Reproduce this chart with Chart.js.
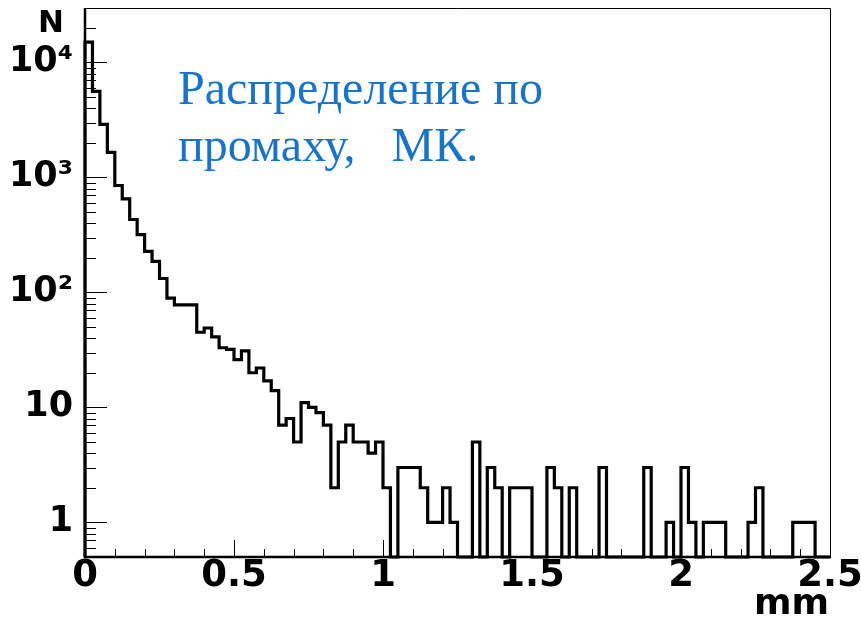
<!DOCTYPE html>
<html>
<head>
<meta charset="utf-8">
<script src="https://cdn.jsdelivr.net/npm/chart.js@4.4.1/dist/chart.umd.min.js"></script>
<style>
  html, body { margin: 0; padding: 0; background: #fff; }
  #wrap { width: 861px; height: 618px; }
</style>
</head>
<body>
<div id="wrap"><canvas id="hist" width="861" height="618"></canvas></div>
<script>
// miss-distance histogram, 100 bins of 0.025 mm
const xMin = 0;
const xMax = 2.5;
const binWidth = 0.025;
const counts = [
  15000, 5600, 2890, 1650, 850, 650, 430, 318, 227, 186,
  132, 89, 78, 78, 78, 45, 49, 41, 33, 32,
  26, 31, 20, 22, 17, 14, 7, 8, 5, 11,
  10, 9, 7, 2, 5, 7, 5, 5, 4, 5,
  2, 0, 3, 3, 3, 2, 1, 1, 2, 1,
  0, 0, 5, 0, 3, 2, 0, 2, 2, 2,
  0, 0, 3, 2, 0, 2, 0, 0, 0, 3,
  0, 0, 0, 0, 0, 3, 0, 0, 1, 0,
  3, 1, 0, 1, 1, 1, 0, 0, 0, 1,
  2, 0, 0, 0, 0, 1, 1, 1, 0, 0
];
const yMin = 0.5;
const yMax = 29700;
const yTickValues = [1, 10, 100, 1000, 10000];
const yTickLabels = ["1", "10", "10²", "10³", "10⁴"];
const xTickValues = [0, 0.5, 1, 1.5, 2, 2.5];
const xTickLabels = ["0", "0.5", "1", "1.5", "2", "2.5"];
const noteLines = ["Распределение по", "промаху,   МК."];

// empty bins sit on the bottom of the frame, as on a log plot
const points = [{ x: xMin, y: yMin }];
counts.forEach((c, i) => points.push({ x: xMin + i * binWidth, y: c > 0 ? c : yMin }));
points.push({ x: xMax, y: counts[counts.length - 1] > 0 ? counts[counts.length - 1] : yMin });

const rootFrame = {
  id: "rootFrame",
  beforeDatasetsDraw(chart) {
    const { ctx, chartArea: a, scales } = chart;
    ctx.save();
    ctx.strokeStyle = "#000";
    ctx.lineWidth = 1;
    ctx.beginPath();
    // y ticks, inside the frame
    for (let k = -1; k <= 4; k++) {
      for (let m = 1; m <= 9; m++) {
        const v = m * Math.pow(10, k);
        if (v < yMin || v > yMax) continue;
        const y = Math.round(scales.y.getPixelForValue(v)) + 0.5;
        const len = m === 1 ? 22 : 11;
        ctx.moveTo(a.left, y);
        ctx.lineTo(a.left + len, y);
      }
    }
    // x ticks
    for (let i = 0; i <= 25; i++) {
      const x = Math.round(scales.x.getPixelForValue(i * 0.1)) + 0.5;
      const len = i % 5 === 0 ? 17 : 8;
      ctx.moveTo(x, a.bottom);
      ctx.lineTo(x, a.bottom - len);
    }
    ctx.stroke();
    ctx.restore();
  },
  afterDatasetsDraw(chart) {
    const { ctx, chartArea: a } = chart;
    ctx.save();
    ctx.strokeStyle = "#000";
    ctx.lineWidth = 1;
    ctx.beginPath();
    ctx.moveTo(a.left, a.top + 0.5);
    ctx.lineTo(a.right + 0.5, a.top + 0.5);
    ctx.lineTo(a.right + 0.5, a.bottom);
    ctx.stroke();
    ctx.lineWidth = 2.5;
    ctx.beginPath();
    ctx.moveTo(a.left, a.top);
    ctx.lineTo(a.left, a.bottom);
    ctx.lineTo(a.right + 1, a.bottom);
    ctx.stroke();

    ctx.fillStyle = "#000";
    ctx.font = 'bold 31px "DejaVu Sans"';
    ctx.textAlign = "center";
    ctx.fillText("N", 51, 32);
    ctx.font = 'bold 36px "DejaVu Sans"';
    ctx.textAlign = "right";
    ctx.fillText("mm", 829, 614);

    ctx.fillStyle = "#1a74c6";
    ctx.font = '48px "Liberation Serif"';
    ctx.textAlign = "left";
    ctx.fillText(noteLines[0], 178, 104);
    ctx.fillText(noteLines[1], 178, 161);
    ctx.restore();
  }
};

new Chart(document.getElementById("hist"), {
  type: "line",
  data: {
    datasets: [
      {
        data: points,
        stepped: "before",
        borderColor: "#000",
        borderWidth: 3.2,
        pointRadius: 0,
        fill: false,
        clip: 4
      }
    ]
  },
  options: {
    responsive: false,
    animation: false,
    layout: { padding: { top: 8, right: 31, left: 0, bottom: 0 } },
    plugins: {
      legend: { display: false },
      tooltip: { enabled: false }
    },
    scales: {
      x: {
        type: "linear",
        min: xMin,
        max: xMax,
        grid: { display: false, drawTicks: false },
        border: { display: false },
        afterBuildTicks: (scale) => {
          scale.ticks = xTickValues.map((v) => ({ value: v }));
        },
        afterFit: (scale) => {
          scale.height = 61;
          scale.paddingLeft = 0;
          scale.paddingRight = 0;
        },
        ticks: {
          autoSkip: false,
          maxRotation: 0,
          padding: 1,
          color: "#000",
          font: { family: "DejaVu Sans", weight: "bold", size: 37, lineHeight: 1 },
          callback: (v) => {
            const i = xTickValues.indexOf(v);
            return i >= 0 ? xTickLabels[i] : "";
          }
        }
      },
      y: {
        type: "logarithmic",
        min: yMin,
        max: yMax,
        grid: { display: false, drawTicks: false },
        border: { display: false },
        afterBuildTicks: (scale) => {
          scale.ticks = yTickValues.map((v) => ({ value: v }));
        },
        afterFit: (scale) => {
          scale.width = 85;
          scale.paddingTop = 0;
          scale.paddingBottom = 0;
        },
        ticks: {
          autoSkip: false,
          padding: 12,
          color: "#000",
          font: { family: "DejaVu Sans", weight: "bold", size: 35, lineHeight: 1 },
          callback: (v) => {
            const i = yTickValues.indexOf(v);
            return i >= 0 ? yTickLabels[i] : "";
          }
        }
      }
    }
  },
  plugins: [rootFrame]
});
</script>
</body>
</html>
